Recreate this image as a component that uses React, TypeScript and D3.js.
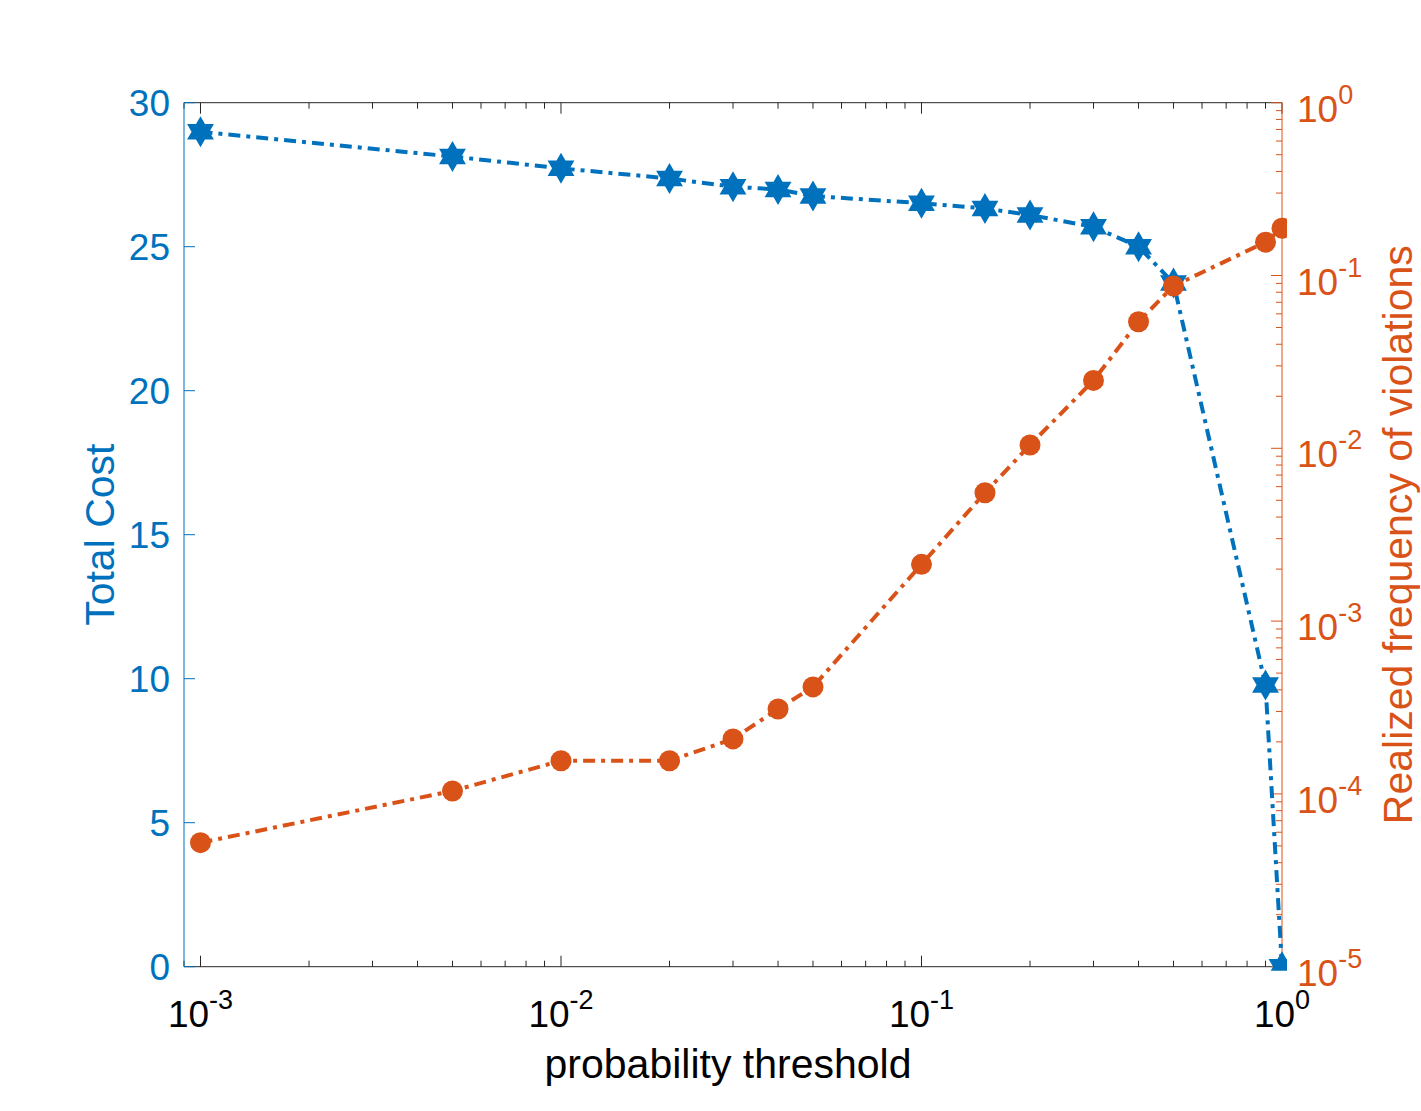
import React from "react";
import * as d3 from "d3";

const thresholds = [0.001, 0.005, 0.01, 0.02, 0.03, 0.04, 0.05, 0.1, 0.15, 0.2, 0.3, 0.4, 0.5, 0.9, 1.0];
const totalCost = [28.99, 28.13, 27.72, 27.37, 27.08, 26.99, 26.76, 26.51, 26.33, 26.1, 25.69, 25.0, 23.74, 9.78, 0.0];
const violationFreq = [5.22e-5, 1.04e-4, 1.556e-4, 1.556e-4, 2.08e-4, 3.1e-4, 4.16e-4, 2.13e-3, 5.53e-3, 1.045e-2, 2.47e-2, 5.4e-2, 8.69e-2, 0.156, 0.188];

const leftTicks = [0, 5, 10, 15, 20, 25, 30];
const xMajorExp = [-3, -2, -1, 0];
const yRightMajorExp = [-5, -4, -3, -2, -1, 0];

const BLUE = "#0072BD";
const ORANGE = "#D95319";
const FONT = "'Liberation Sans', Arial, Helvetica, sans-serif";

const W = 1421, H = 1111;
const L = 184, R = 1282, T = 102.7, B = 966.7;

const hexagram = {
  draw(ctx: any, size: number) {
    const Ro = Math.sqrt(size);
    const ri = Ro / Math.sqrt(3);
    for (let i = 0; i < 12; i++) {
      const a = -Math.PI / 2 + (i * Math.PI) / 6;
      const r = i % 2 === 0 ? Ro : ri;
      const x = r * Math.cos(a), y = r * Math.sin(a);
      if (i === 0) ctx.moveTo(x, y); else ctx.lineTo(x, y);
    }
    ctx.closePath();
  },
};

export default function App() {
  const x = d3.scaleLog().domain([0.0009, 1]).range([L, R]);
  const yL = d3.scaleLinear().domain([0, 30]).range([B, T]);
  const yR = d3.scaleLog().domain([1e-5, 1]).range([B, T]);

  const xMinor: number[] = [];
  for (let e = -4; e <= -1; e++) for (let m = 2; m <= 9; m++) {
    const v = m * Math.pow(10, e);
    if (v >= 0.0009 && v <= 1) xMinor.push(v);
  }
  const yMinor: number[] = [];
  for (let e = -5; e <= -1; e++) for (let m = 2; m <= 9; m++) yMinor.push(m * Math.pow(10, e));

  const lineL = d3.line<number>().x((_, i) => x(thresholds[i])).y((d) => yL(d));
  const lineR = d3.line<number>().x((_, i) => x(thresholds[i])).y((d) => yR(d));
  const star = d3.symbol().type(hexagram as any).size(15.5 * 15.5)();
  const dash = "12,6,4,6";
  const lw = 4;

  return (
    <svg width={W} height={H} style={{ position: "absolute", left: 0, top: 0, display: "block", background: "#fff" }} fontFamily={FONT}>
      <defs>
        <clipPath id="plotclip">
          <rect x={L - 30} y={T - 30} width={R - L + 35} height={B - T + 34} />
        </clipPath>
      </defs>
      <rect x={0} y={0} width={W} height={H} fill="#fff" />
      {/* bottom & top axes */}
      <line x1={L} x2={R} y1={B} y2={B} stroke="#262626" strokeWidth={1} />
      <line x1={L} x2={R} y1={T} y2={T} stroke="#262626" strokeWidth={1} />
      {xMajorExp.map((e) => {
        const xx = x(Math.pow(10, e));
        return (
          <g key={"xm" + e}>
            <line x1={xx} x2={xx} y1={B} y2={B - 11} stroke="#262626" />
            <line x1={xx} x2={xx} y1={T} y2={T + 11} stroke="#262626" />
            <text x={xx} y={B + 60} textAnchor="middle" fontSize={37} fill="#000">
              10<tspan dy={-18} fontSize={27}>{e}</tspan>
            </text>
          </g>
        );
      })}
      {xMinor.map((v, i) => (
        <g key={"xn" + i}>
          <line x1={x(v)} x2={x(v)} y1={B} y2={B - 6} stroke="#262626" />
          <line x1={x(v)} x2={x(v)} y1={T} y2={T + 6} stroke="#262626" />
        </g>
      ))}
      <text x={728} y={1078} textAnchor="middle" fontSize={41} fill="#000">probability threshold</text>

      {/* left axis */}
      <line x1={L} x2={L} y1={T} y2={B} stroke={BLUE} strokeWidth={1} />
      {leftTicks.map((t) => (
        <g key={"yl" + t}>
          <line x1={L} x2={L + 11} y1={yL(t)} y2={yL(t)} stroke={BLUE} />
          <text x={L - 14} y={yL(t) + 13} textAnchor="end" fontSize={37} fill={BLUE}>{t}</text>
        </g>
      ))}
      <text transform={`translate(114,${(T + B) / 2}) rotate(-90)`} textAnchor="middle" fontSize={41} fill={BLUE}>Total Cost</text>

      {/* right axis */}
      <line x1={R} x2={R} y1={T} y2={B} stroke={ORANGE} strokeWidth={1} />
      {yRightMajorExp.map((e) => {
        const yy = yR(Math.pow(10, e));
        return (
          <g key={"yr" + e}>
            <line x1={R} x2={R - 11} y1={yy} y2={yy} stroke={ORANGE} />
            <text x={R + 15} y={yy + 19} textAnchor="start" fontSize={37} fill={ORANGE}>
              10<tspan dy={-18} fontSize={27}>{e}</tspan>
            </text>
          </g>
        );
      })}
      {yMinor.map((v, i) => (
        <line key={"yrn" + i} x1={R} x2={R - 6} y1={yR(v)} y2={yR(v)} stroke={ORANGE} />
      ))}
      <text transform={`translate(1412,${(T + B) / 2}) rotate(-90)`} textAnchor="middle" fontSize={41} fill={ORANGE}>Realized frequency of violations</text>

      {/* series */}
      <g clipPath="url(#plotclip)">
        <path d={lineL(totalCost) || ""} fill="none" stroke={BLUE} strokeWidth={lw} strokeDasharray={dash} />
        {totalCost.map((v, i) => (
          <path key={"s" + i} d={star || ""} transform={`translate(${x(thresholds[i])},${yL(v)})`} fill={BLUE} />
        ))}
        <path d={lineR(violationFreq) || ""} fill="none" stroke={ORANGE} strokeWidth={lw} strokeDasharray={dash} />
        {violationFreq.map((v, i) => (
          <circle key={"c" + i} cx={x(thresholds[i])} cy={yR(v)} r={10.5} fill={ORANGE} />
        ))}
      </g>
    </svg>
  );
}
